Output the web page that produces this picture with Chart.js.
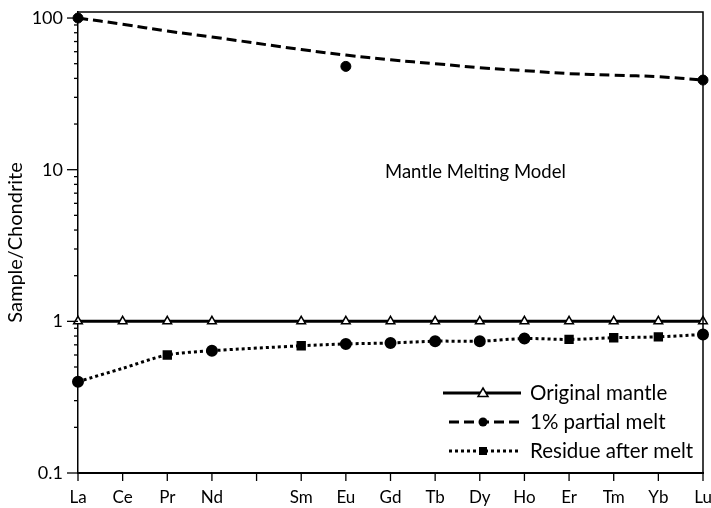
<!DOCTYPE html>
<html>
<head>
<meta charset="utf-8">
<script src="https://cdn.jsdelivr.net/npm/chart.js@4"></script>
<style>
  html, body { margin: 0; padding: 0; background: #fff; }
  #wrap { width: 711px; height: 508px; }
</style>
</head>
<body>
<div id="wrap"><canvas id="myChart"></canvas></div>
<script>
// REE order, Pm left blank
const elements = ['La', 'Ce', 'Pr', 'Nd', '', 'Sm', 'Eu', 'Gd', 'Tb', 'Dy', 'Ho', 'Er', 'Tm', 'Yb', 'Lu'];
const originalMantle = [1, 1, 1, 1, null, 1, 1, 1, 1, 1, 1, 1, 1, 1, 1];
const meltCurve = [100, 91, 82, 75, null, 62, 57, 53, 50, 47, 45, 43, 42, 41, 39];
const meltPoints = [100, null, null, null, null, null, 48, null, null, null, null, null, null, null, 39];
const residue = [0.40, 0.49, 0.60, 0.64, null, 0.69, 0.71, 0.72, 0.74, 0.74, 0.77, 0.76, 0.78, 0.79, 0.82];
const residueStyle = ['circle', 'circle', 'rect', 'circle', 'circle', 'rect', 'circle', 'circle', 'circle', 'circle', 'circle', 'rect', 'rect', 'rect', 'circle'];
const yTicks = [0.1, 0.2, 0.3, 0.4, 0.5, 0.6, 0.7, 0.8, 0.9, 1, 2, 3, 4, 5, 6, 7, 8, 9, 10, 20, 30, 40, 50, 60, 70, 80, 90, 100];
const yLabels = ['0.1', '1', '10', '100'];
const legendNames = ['Original mantle', '1% partial melt', 'Residue after melt'];

const FONT = 'Lato, "Open Sans", sans-serif';

// frame, tick marks, note text and legend
const extras = {
  id: 'extras',
  afterDraw(chart) {
    const ctx = chart.ctx;
    const a = chart.chartArea;
    const x = chart.scales.x, y = chart.scales.y;
    ctx.save();
    ctx.strokeStyle = '#000';
    ctx.lineWidth = 1.5;
    ctx.beginPath();
    ctx.moveTo(a.left, a.top); ctx.lineTo(a.right, a.top); ctx.lineTo(a.right, a.bottom);
    ctx.stroke();

    // y ticks
    ctx.lineWidth = 1.3;
    y.ticks.forEach(t => {
      const py = y.getPixelForValue(t.value);
      const len = yLabels.includes(t.label) ? 11 : 4;
      ctx.beginPath(); ctx.moveTo(a.left - len, py); ctx.lineTo(a.left, py); ctx.stroke();
    });
    // x ticks
    elements.forEach((e, i) => {
      const px = x.getPixelForValue(i);
      ctx.beginPath(); ctx.moveTo(px, a.bottom); ctx.lineTo(px, a.bottom + 8); ctx.stroke();
    });

    ctx.fillStyle = '#000';
    ctx.font = '18.5px ' + FONT;
    ctx.textBaseline = 'middle';
    ctx.fillText('Mantle Melting Model', 385, 172);

    // legend
    const rows = [393, 422, 451];
    const styles = [
      { dash: [], x0: 443 },
      { dash: [10, 5], x0: 449 },
      { dash: [3, 3], x0: 449 }
    ];
    styles.forEach((s, i) => {
      const ry = rows[i];
      ctx.setLineDash(s.dash);
      ctx.lineWidth = 3;
      ctx.beginPath(); ctx.moveTo(s.x0, ry); ctx.lineTo(521, ry); ctx.stroke();
      ctx.setLineDash([]);
      const mx = 483, r = 5;
      ctx.lineWidth = 1.5;
      ctx.beginPath();
      if (i === 0) {
        ctx.moveTo(mx, ry - r); ctx.lineTo(mx + r, ry + r * 0.7); ctx.lineTo(mx - r, ry + r * 0.7); ctx.closePath();
        ctx.fillStyle = '#fff'; ctx.fill(); ctx.stroke();
      } else if (i === 1) {
        ctx.arc(mx, ry, 4.5, 0, Math.PI * 2); ctx.fillStyle = '#000'; ctx.fill();
      } else {
        ctx.rect(mx - 4, ry - 4, 8, 8); ctx.fillStyle = '#000'; ctx.fill();
      }
      ctx.fillStyle = '#000';
      ctx.font = '20.5px ' + FONT;
      ctx.fillText(legendNames[i], 530, ry);
    });
    ctx.restore();
  }
};

const data = {
  labels: elements,
  datasets: [
    {
      label: legendNames[0],
      data: originalMantle,
      borderColor: '#000',
      borderWidth: 3,
      spanGaps: true,
      pointStyle: 'triangle',
      pointRadius: 5,
      pointBackgroundColor: '#fff',
      pointBorderColor: '#000',
      pointBorderWidth: 1.5,
      clip: false
    },
    {
      label: 'melt points',
      data: meltPoints,
      showLine: false,
      pointRadius: 5,
      pointBackgroundColor: '#000',
      pointBorderColor: '#000',
      clip: false
    },
    {
      label: legendNames[1],
      data: meltCurve,
      borderColor: '#000',
      borderWidth: 3,
      borderDash: [10, 5],
      spanGaps: true,
      tension: 0.4,
      pointRadius: 0,
      clip: false
    },
    {
      label: legendNames[2],
      data: residue,
      borderColor: '#000',
      borderWidth: 3,
      borderDash: [3, 3],
      spanGaps: true,
      tension: 0.3,
      pointStyle: residueStyle,
      pointRadius: residue.map((v, i) => i === 1 ? 0 : 4.5),
      pointBackgroundColor: '#000',
      pointBorderColor: '#000',
      clip: false
    }
  ]
};

const config = {
  type: 'line',
  data,
  options: {
    responsive: true,
    maintainAspectRatio: false,
    animation: false,
    layout: { padding: { top: 12, right: 8, left: 0, bottom: 0 } },
    plugins: { legend: { display: false }, tooltip: { enabled: false } },
    scales: {
      x: {
        type: 'category',
        offset: false,
        grid: { display: false, drawTicks: false },
        border: { display: true, color: '#000', width: 2 },
        ticks: { color: '#000', font: { family: FONT, size: 17 }, padding: 14, autoSkip: false, maxRotation: 0 },
        afterFit(scale) { scale.height = 35; scale.paddingLeft = 0; scale.paddingRight = 0; }
      },
      y: {
        type: 'logarithmic',
        min: 0.1,
        max: 109.6,
        grid: { display: false, drawTicks: false },
        border: { display: true, color: '#000', width: 1.5 },
        afterBuildTicks(scale) { scale.ticks = yTicks.map(v => ({ value: v })); },
        ticks: {
          color: '#000',
          font: { family: FONT, size: 18 },
          padding: 15,
          autoSkip: false,
          callback(v) {
            const s = String(v);
            return yLabels.includes(s) ? s : '';
          }
        },
        title: { display: true, text: 'Sample/Chondrite', color: '#000', font: { family: FONT, size: 20 }, padding: { top: 4, bottom: 4 } },
        afterFit(scale) { scale.width = 78; scale.paddingTop = 0; scale.paddingBottom = 0; }
      }
    }
  },
  plugins: [extras]
};

const myChart = new Chart(document.getElementById('myChart'), config);
</script>
</body>
</html>
